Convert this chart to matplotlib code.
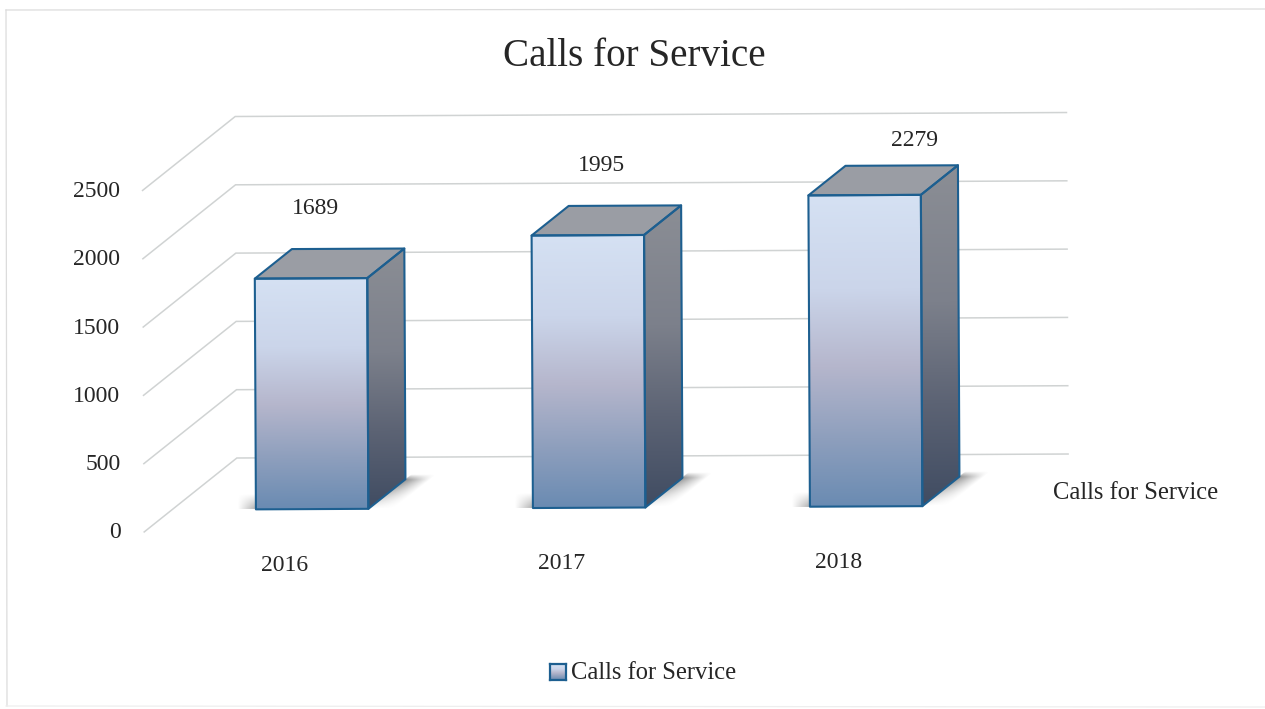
import numpy as np
import matplotlib
matplotlib.use("Agg")
import matplotlib.pyplot as plt
from matplotlib.colors import LinearSegmentedColormap
from matplotlib.lines import Line2D
from matplotlib.patches import Polygon
from matplotlib.transforms import Affine2D

categories = ["2016", "2017", "2018"]
calls = [1689, 1995, 2279]
value_ticks = [0, 500, 1000, 1500, 2000, 2500]
series_name = "Calls for Service"
chart_title = "Calls for Service"

W, H = 1265, 709
plt.rcParams["font.family"] = ["Liberation Serif", "DejaVu Serif"]
fig = plt.figure(figsize=(W / 100, H / 100), dpi=100, facecolor="white")
ax = fig.add_axes([0, 0, 1, 1])
ax.axis("off")

# Plot geometry: category spacing, value scale, and the oblique depth direction
PX_CAT, PX_VAL = 277.0, 0.1366
X0, Y0 = 284.0, 531.5          # centre of first category, value 0 on the front plane
DEPTH_X, DEPTH_Y = 93.0, 73.5  # full floor depth, in pixels
ax.set_xlim(-X0 / PX_CAT, (W - X0) / PX_CAT)
ax.set_ylim(-(H - Y0) / PX_VAL, Y0 / PX_VAL)

# The whole chart sits very slightly tilted
tilt = Affine2D().rotate_deg_around(237, H - 458, 0.275)
trans = ax.transData + tilt
dc, dv = DEPTH_X / PX_CAT, DEPTH_Y / PX_VAL


def pt(c, v, d=0.0):
    return (c + d * dc, v + d * dv)


def gradient_face(verts, cmap, zorder):
    """Fill a polygon with a top-to-bottom gradient."""
    xs, ys = zip(*verts)
    im = ax.imshow(np.linspace(0, 1, 256).reshape(-1, 1), cmap=cmap, aspect="auto",
                   extent=(min(xs), max(xs), min(ys), max(ys)), origin="upper",
                   interpolation="bilinear", zorder=zorder)
    im.set_transform(trans)
    im.set_clip_path(Polygon(verts, closed=True, transform=trans))


def soft_shadow(x0, x1, y0, y1, alpha_fn, grey, zorder):
    """Soft floor shadow whose opacity comes from alpha_fn(x, y) in data units."""
    xs = np.linspace(x0, x1, 96)
    ys = np.linspace(y0, y1, 64)
    gx, gy = np.meshgrid(xs, ys)
    rgba = np.full(gx.shape + (4,), grey, dtype=float)
    rgba[..., 3] = np.clip(alpha_fn(gx, gy), 0, 1)
    im = ax.imshow(rgba, aspect="auto", extent=(x0, x1, y0, y1), origin="lower",
                   interpolation="bilinear", zorder=zorder)
    im.set_transform(trans)


GRID = "#d0d3d3"
front_cmap = LinearSegmentedColormap.from_list(
    "front", [(0, "#d5e1f3"), (0.3, "#cbd5ea"), (0.55, "#b5b6cc"),
              (0.78, "#8e9fbd"), (1, "#6a8bb2")])
side_cmap = LinearSegmentedColormap.from_list(
    "side", [(0, "#8b8e95"), (0.4, "#7c808b"), (0.7, "#5c6374"), (1, "#404c62")])
EDGE = "#1d5f90"

# Gridlines: along the side wall, then across the back wall
for v in value_ticks:
    ax.plot(*zip(pt(-0.506, v), pt(-0.506, v, 1), pt(2.495, v, 1)),
            color=GRID, lw=1.1, transform=trans, zorder=1, solid_joinstyle="miter")

# Bars, with depth from 0.30 to 0.70 of the floor
half, d0, d1 = 0.203, 0.30, 0.70
for i, val in enumerate(calls):
    l, r = i - half, i + half
    front = [pt(l, val, d0), pt(r, val, d0), pt(r, 0, d0), pt(l, 0, d0)]
    side = [pt(r, val, d0), pt(r, val, d1), pt(r, 0, d1), pt(r, 0, d0)]
    top = [pt(l, val, d0), pt(l, val, d1), pt(r, val, d1), pt(r, val, d0)]

    # Shadow to the right of the bar: sheared along the depth, strongest near the rear
    base_x, base_y = pt(r, 0, d0)
    rear_y = pt(r, 0, d1 + 0.07)[1]
    span = 0.09

    def right_alpha(x, y, bx=base_x, by=base_y, ry=rear_y, s=span):
        along = (y - by) / (ry - by)
        u = (x - (bx + (y - by) * dc / dv)) / s
        fade = np.where(u < 0, 0, 1 - u)
        return 0.8 * fade * np.minimum(along * 1.3, (1 - along) * 7)

    soft_shadow(base_x, base_x + dc * (d1 + 0.07 - d0) + span, base_y, rear_y,
                right_alpha, 0.5, 2)

    # Shadow peeking out at the left of the front face
    lx, ly = pt(l, 0, d0)
    wid, tall = 0.065, 105.0

    def left_alpha(x, y, bx=lx, by=ly, w=wid, t=tall):
        return 0.65 * ((x - (bx - w)) / w) * (1 - (y - by) / t)

    soft_shadow(lx - wid, lx + 0.01, ly, ly + tall, left_alpha, 0.5, 2)

    gradient_face(front, front_cmap, 3)
    gradient_face(side, side_cmap, 3)
    ax.add_patch(Polygon(top, closed=True, fc="#9a9da4", ec="none", transform=trans, zorder=3))
    for face in (front, side, top):
        ax.add_patch(Polygon(face, closed=True, fc="none", ec=EDGE, lw=1.5,
                             joinstyle="round", transform=trans, zorder=4))

TXT = "#262626"
# Value axis labels
for v in value_ticks:
    x, y = pt(-0.506, v)
    ax.annotate(str(v), (x, y), xycoords=trans, xytext=(-23, -1), textcoords="offset pixels",
                ha="right", va="center", fontsize=17, color=TXT, zorder=5)

# Category labels below the floor
for i, name in enumerate(categories):
    ax.annotate(name, pt(i, 0), xycoords=trans, xytext=(0, -34), textcoords="offset pixels",
                ha="center", va="center", fontsize=17, color=TXT, zorder=5)

# Value labels above the bars
label_offsets = [(4, 70), (14, 70), (50, 55)]
for i, val in enumerate(calls):
    ax.annotate(str(val), pt(i, val, d0), xycoords=trans, xytext=label_offsets[i],
                textcoords="offset pixels", ha="center", va="center",
                fontsize=17, color=TXT, zorder=5)

# Series name at the end of the depth axis
fig.text(1053 / W, 1 - 493 / H, series_name, ha="left", va="center", fontsize=17.7, color=TXT)

fig.text(634 / W, 1 - 56 / H, chart_title, ha="center", va="center", fontsize=28.2, color=TXT)

# Legend swatch and text
key = fig.add_axes([550 / W, 1 - 680 / H, 16 / W, 16 / H])
key.imshow(np.linspace(0, 1, 64).reshape(-1, 1), cmap=front_cmap, aspect="auto")
key.set_xticks([])
key.set_yticks([])
for s in key.spines.values():
    s.set_color(EDGE)
    s.set_linewidth(1.6)
fig.text(571 / W, 1 - 673 / H, series_name, ha="left", va="center", fontsize=17.7, color=TXT)

# Faint frame on the top, left and bottom of the chart area
for xs, ys, col in [((6, 1265), (10, 9), "#dcdcdc"), ((6, 7), (10, 706), "#dcdcdc"),
                    ((6, 1265), (706, 707), "#eeeeee")]:
    fig.add_artist(Line2D([x / W for x in xs], [1 - y / H for y in ys],
                          transform=fig.transFigure, color=col, lw=0.9))

fig.savefig("out.png", dpi=100, facecolor="white")
